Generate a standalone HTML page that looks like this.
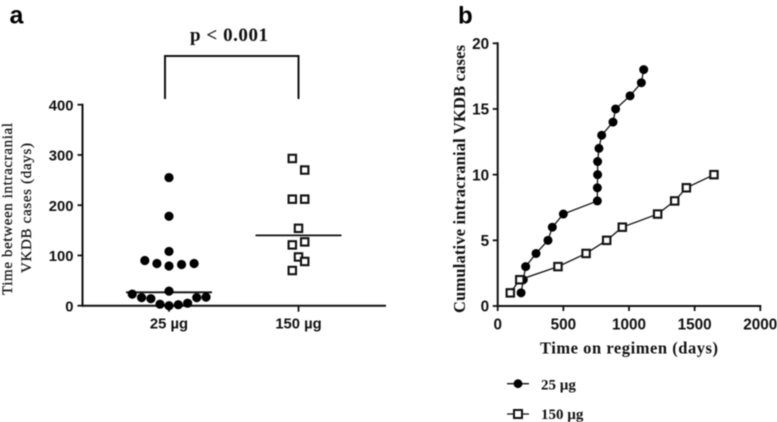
<!DOCTYPE html>
<html lang="en">
<head>
<meta charset="utf-8">
<title>Intracranial VKDB cases</title>
<style>
html,body{margin:0;padding:0;background:#fff;}
svg{display:block;filter:blur(0.45px);}
.tick{font:bold 14.8px "Liberation Sans",sans-serif;fill:#111;}
.tickb{font:bold 15.3px "Liberation Sans",sans-serif;fill:#111;}
.serif{font-family:"Liberation Serif",serif;font-weight:bold;fill:#111;}
</style>
</head>
<body>
<svg id="chart" xmlns="http://www.w3.org/2000/svg" width="777" height="422" viewBox="0 0 777 422">
  <text x="9.5" y="23.5" font-family="Liberation Sans" font-weight="bold" font-size="25" fill="#000">a</text>
  <text x="458" y="23.5" font-family="Liberation Sans" font-weight="bold" font-size="24" fill="#000">b</text>

  <text class="serif" x="229" y="41" font-size="19" text-anchor="middle" textLength="78">p &lt; 0.001</text>
  <path d="M165 99V56H298.5V99" fill="none" stroke="#111" stroke-width="2"/>

  <g id="panelA"></g>
  <g id="panelB"></g>

  <text class="serif" transform="translate(12,209) rotate(-90)" font-size="15" text-anchor="middle" style="font-weight:normal;stroke:#111;stroke-width:0.25" textLength="172">Time between intracranial</text>
  <text class="serif" transform="translate(31,208) rotate(-90)" font-size="15" text-anchor="middle" style="font-weight:normal;stroke:#111;stroke-width:0.25" textLength="130">VKDB cases (days)</text>
  <text class="serif" transform="translate(465,179) rotate(-90)" font-size="16.5" text-anchor="middle" textLength="268">Cumulative intracranial VKDB cases</text>
  <text class="serif" x="629" y="353.3" font-size="16.5" text-anchor="middle" textLength="178">Time on regimen (days)</text>

  <g>
    <line x1="507" x2="529" y1="383.7" y2="383.7" stroke="#111" stroke-width="1.3"/>
    <circle cx="518" cy="383.7" r="4.4" fill="#000"/>
    <text class="serif" x="541" y="389.5" font-size="15">25 µg</text>
  </g>
  <g>
    <line x1="507" x2="529" y1="414" y2="414" stroke="#111" stroke-width="1.3"/>
    <rect x="514" y="410" width="8" height="8" fill="#fff" stroke="#111" stroke-width="2"/>
    <text class="serif" x="541" y="419" font-size="15">150 µg</text>
  </g>
</svg>
<script>
// Panel a data
var groupLabels = ['25 µg', '150 µg'];
var gapValues25 = [255, 178, 108, 90, 84, 79, 82, 84, 29, 23, 16, 14, 16, 17, 3, 0, 2, 5];
var swarmSlots25 = [0, 0, 0, -2.6, -1.3, 0, 1.35, 2.7, 0, -3.95, -2.95, -1.95, 2.98, 3.98, -0.97, 0, 1, 2];
var gapValues150 = [293, 270, 212, 212, 154, 127, 121, 97, 88, 70];
var swarmSlots150 = [-1, 1, -1, 1, 0, 1, -1, 0, 1, -1];
var groupMedians = [26.6, 140];
var yTicksA = [0, 100, 200, 300, 400];

// Panel b data
var casesCount = [1, 2, 3, 4, 5, 6, 7, 8, 9, 10, 11, 12, 13, 14, 15, 16, 17, 18];
var days25 = [178, 195, 213, 292, 383, 416, 500, 759, 759, 761, 761, 771, 792, 878, 898, 1008, 1094, 1112];
var days150 = [96, 168, 459, 673, 830, 949, 1218, 1348, 1437, 1647];
var xTicksB = [0, 500, 1000, 1500, 2000];
var yTicksB = [0, 5, 10, 15, 20];

var NS = 'http://www.w3.org/2000/svg';
function make(parent, tag, attrs, text) {
  var el = document.createElementNS(NS, tag);
  for (var k in attrs) el.setAttribute(k, attrs[k]);
  if (text !== undefined) el.textContent = text;
  parent.appendChild(el);
  return el;
}
var INK = '#111';

// Axis functions, panel a
function yA(v) { return 305.7 - v * 0.5025; }
function xA(i) { return 169 + i * 129.5; }
var a = document.getElementById('panelA');

var yAxisA = make(a, 'line', {x1: 82.5, x2: 82.5, y1: yA(400) - 1, y2: yA(0) + 1, stroke: INK, 'stroke-width': 2});


var xAxisA = make(a, 'line', {x1: 82.5, x2: 386, y1: yA(0), y2: yA(0), stroke: INK, 'stroke-width': 2});



yTicksA.forEach(function (t) {
  var tick = make(a, 'line', {x1: 77.5, x2: 82.5, y1: yA(t), y2: yA(t), stroke: INK, 'stroke-width': 1.8});
  
  
  var label = make(a, 'text', {x: 73.5, y: yA(t) + 5.6, 'text-anchor': 'end', 'class': 'tick'}, t);
  
  
});

groupLabels.forEach(function (name, i) {
  var tick = make(a, 'line', {x1: xA(i), x2: xA(i), y1: yA(0), y2: yA(0) + 6, stroke: INK, 'stroke-width': 1.8});
  
  
  var label = make(a, 'text', {x: xA(i), y: 328.5, 'text-anchor': 'middle', 'class': 'tick'}, name);
  
  
  var median = make(a, 'line', {x1: xA(i) - 43, x2: xA(i) + 43, y1: yA(groupMedians[i]), y2: yA(groupMedians[i]), stroke: INK, 'stroke-width': 1.8});
  
  
});

gapValues25.forEach(function (v, i) {
  var dot = make(a, 'circle', {cx: xA(0) + swarmSlots25[i] * 9.3, cy: yA(v), r: 4.6, fill: '#000'});
  
  
});
gapValues150.forEach(function (v, i) {
  var sq = make(a, 'rect', {x: xA(1) + swarmSlots150[i] * 6.2 - 3.7, y: yA(v) - 3.7, width: 7.4, height: 7.4, fill: '#fff', stroke: INK, 'stroke-width': 2.1});
  
  
});

// Axis functions, panel b
function xB(v) { return 497.7 + v * 0.1313; }
function yB(v) { return 306 - v * 13.135; }
var b = document.getElementById('panelB');

var yAxisB = make(b, 'line', {x1: xB(0), x2: xB(0), y1: yB(20) - 1, y2: yB(0) + 1, stroke: INK, 'stroke-width': 2});


var xAxisB = make(b, 'line', {x1: xB(0), x2: xB(2000) + 1, y1: yB(0), y2: yB(0), stroke: INK, 'stroke-width': 2});



yTicksB.forEach(function (t) {
  var tick = make(b, 'line', {x1: xB(0) - 5, x2: xB(0), y1: yB(t), y2: yB(t), stroke: INK, 'stroke-width': 1.8});
  
  
  var label = make(b, 'text', {x: xB(0) - 8.5, y: yB(t) + 5.7, 'text-anchor': 'end', 'class': 'tickb'}, t);
  
  
});
xTicksB.forEach(function (t) {
  var tick = make(b, 'line', {x1: xB(t), x2: xB(t), y1: yB(0), y2: yB(0) + 5, stroke: INK, 'stroke-width': 1.8});
  
  
  var label = make(b, 'text', {x: xB(t), y: 329.5, 'text-anchor': 'middle', 'class': 'tickb'}, t);
  
  
});

function linePoints(days) {
  return days.map(function (d, i) { return xB(d) + ',' + yB(casesCount[i]); }).join(' ');
}
var line25 = make(b, 'polyline', {points: linePoints(days25), fill: 'none', stroke: INK, 'stroke-width': 1.3});


days25.forEach(function (d, i) {
  var dot = make(b, 'circle', {cx: xB(d), cy: yB(casesCount[i]), r: 4.5, fill: '#000'});
  
  
});
var line150 = make(b, 'polyline', {points: linePoints(days150), fill: 'none', stroke: INK, 'stroke-width': 1.3});


days150.forEach(function (d, i) {
  var sq = make(b, 'rect', {x: xB(d) - 3.7, y: yB(casesCount[i]) - 3.7, width: 7.4, height: 7.4, fill: '#fff', stroke: INK, 'stroke-width': 2.1});
  
  
});
</script>
</body>
</html>
